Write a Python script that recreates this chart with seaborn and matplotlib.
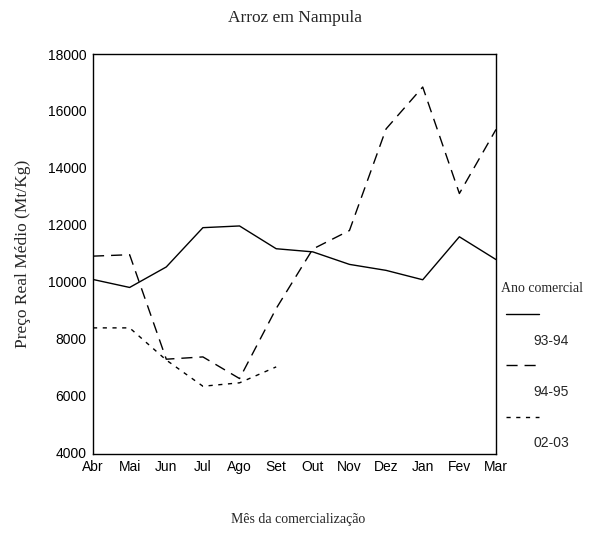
import pandas as pd
import matplotlib
matplotlib.use("Agg")
import matplotlib.pyplot as plt
from matplotlib.lines import Line2D
import seaborn as sns

# Data
meses = ['Abr', 'Mai', 'Jun', 'Jul', 'Ago', 'Set', 'Out', 'Nov', 'Dez', 'Jan', 'Fev', 'Mar']
preco_93_94 = [10080, 9800, 10520, 11900, 11960, 11160, 11050, 10610, 10400, 10070, 11580, 10780]
preco_94_95 = [10900, 10950, 7280, 7360, 6600, 9060, 11150, 11800, 15370, 16840, 13100, 15350]
preco_02_03 = [8380, 8380, 7250, 6330, 6450, 7010]
anos = ['93-94', '94-95', '02-03']

rows = []
for ano, vals in zip(anos, [preco_93_94, preco_94_95, preco_02_03]):
    for i, v in enumerate(vals):
        rows.append({'mes': i, 'preco': v, 'ano': ano})
df = pd.DataFrame(rows)

sns.set_style("white")
plt.rcParams['font.family'] = ['Liberation Sans', 'DejaVu Sans']
serif = ['Liberation Serif', 'DejaVu Serif']

fig = plt.figure(figsize=(6, 5.33), dpi=100)
ax = fig.add_axes([93 / 600, 1 - 454 / 533, 403 / 600, 400 / 533])

dash_styles = {'93-94': '', '94-95': (8, 5), '02-03': (3, 4)}
sns.lineplot(data=df, x='mes', y='preco', hue='ano', style='ano',
             palette=['black'] * 3, dashes=dash_styles, linewidth=1.0,
             legend=False, ax=ax)

ax.set_xlim(0, 11)
ax.set_ylim(3950, 18000)
ax.set_xticks(range(12))
ax.set_xticklabels(meses)
ax.set_yticks(range(4000, 18001, 2000))
ax.tick_params(axis='both', direction='out', length=2.5, width=2.2,
               color='black', labelsize=10, pad=2, colors='black')
for s in ax.spines.values():
    s.set_color('black')
    s.set_linewidth(1.0)

ax.set_xlabel('')
ax.set_ylabel('Preço Real Médio (Mt/Kg)', family=serif, fontsize=12.5, labelpad=12)
fig.text(0.497, 1 - 520 / 533, 'Mês da comercialização', family=serif,
         fontsize=10, ha='center', va='center')
fig.text(0.492, 1 - 18 / 533, 'Arroz em Nampula', family=serif,
         fontsize=12.5, ha='center', va='center')

# legend: line sample on one row, year label below it
fig.text(501 / 600, 1 - 288 / 533, 'Ano comercial', family=serif,
         fontsize=10, ha='left', va='center')
blank = Line2D([], [], linestyle='none')
handles = [
    Line2D([], [], color='black', lw=1.0), blank,
    Line2D([], [], color='black', lw=1.0, dashes=(8, 5)), blank,
    Line2D([], [], color='black', lw=1.0, dashes=(3, 4)), blank,
]
labels = ['', '93-94', '', '94-95', '', '02-03']
leg = ax.legend(handles, labels, loc='upper left',
                bbox_to_anchor=(506 / 600, 1 - 308 / 533),
                bbox_transform=fig.transFigure, frameon=False,
                handlelength=2.4, handletextpad=-0.4,
                labelspacing=0.84, borderpad=0, borderaxespad=0,
                fontsize=10)

fig.savefig('out.png', dpi=100)
